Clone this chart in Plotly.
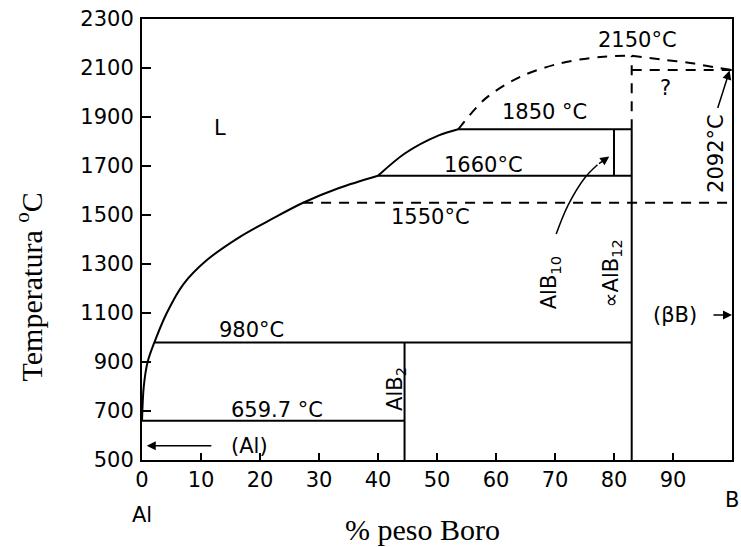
import plotly.graph_objects as go

# ---- data (wt% B, temperature in C) ----
liq_low_x = [0, 0.3, 0.95, 2.1, 4.2, 7.0, 10.9, 16.6, 22.2, 27.3, 33.4, 40]
liq_low_T = [659.7, 800, 900, 980, 1100, 1217, 1314, 1411, 1486, 1550, 1610, 1660]
liq_mid_x = [40, 44.6, 50.3, 53.6]
liq_mid_T = [1660, 1752, 1825, 1850]
liq_dash_left_x = [53.6, 58.2, 64.2, 71, 77.7, 83]
liq_dash_left_T = [1850, 1975, 2065, 2120, 2145, 2150]
liq_dash_right_x = [83, 88, 93.6, 97, 100]
liq_dash_right_T = [2150, 2135, 2118, 2103, 2092]

# invariant (horizontal) lines: (T, x_start, x_end)
solid_h_T = [659.7, 980, 1660, 1850]
solid_h_x0 = [0, 2.1, 40, 53.6]
solid_h_x1 = [44.5, 83, 83, 83]
dash_h_T = [1550, 2092]
dash_h_x0 = [27.3, 83]
dash_h_x1 = [100, 100]

# compound (vertical) lines: (x, T_start, T_end)
solid_v_x = [44.5, 83, 80]
solid_v_T0 = [500, 500, 1660]
solid_v_T1 = [980, 1850, 1850]
dash_v_x = [83]
dash_v_T0 = [1850]
dash_v_T1 = [2150]

# curved leader of AlB10 label
leader_x = [70.2, 72.2, 75.0, 77.2]
leader_T = [1422, 1539, 1650, 1705]

x_ticks = list(range(0, 101, 10))
y_ticks = list(range(500, 2301, 200))

LW = 2
BLK = "black"
DASH = "10px,8px"

fig = go.Figure()

def add_line(x, y, dash="solid", shape="linear"):
    fig.add_trace(go.Scatter(x=x, y=y, mode="lines",
                             line=dict(color=BLK, width=LW, dash=dash, shape=shape,
                                       smoothing=0.9 if shape == "spline" else None),
                             hoverinfo="skip", showlegend=False))

add_line(liq_low_x, liq_low_T, shape="spline")
add_line(liq_mid_x, liq_mid_T, shape="spline")
add_line(liq_dash_left_x, liq_dash_left_T, dash=DASH, shape="spline")
add_line(liq_dash_right_x, liq_dash_right_T, dash=DASH, shape="spline")

for T, a, b in zip(solid_h_T, solid_h_x0, solid_h_x1):
    add_line([a, b], [T, T])
for T, a, b in zip(dash_h_T, dash_h_x0, dash_h_x1):
    add_line([a, b], [T, T], dash=DASH)
for x, a, b in zip(solid_v_x, solid_v_T0, solid_v_T1):
    add_line([x, x], [a, b])
for x, a, b in zip(dash_v_x, dash_v_T0, dash_v_T1):
    add_line([x, x], [a, b], dash=DASH)

fig.add_trace(go.Scatter(x=leader_x, y=leader_T, mode="lines",
                         line=dict(color=BLK, width=1.5, shape="spline"),
                         hoverinfo="skip", showlegend=False))

TF = dict(family="DejaVu Sans", size=21, color=BLK)
SERIF = dict(family="Liberation Serif", size=30, color=BLK)

labels = [
    ("L", 13.2, 1856, 0),
    ("2150°C", 84, 2214, 0),
    ("?", 88.7, 2018, 0),
    ("1850 °C", 68.2, 1920, 0),
    ("1660°C", 57.9, 1704, 0),
    ("1550°C", 48.9, 1492, 0),
    ("980°C", 18.5, 1029, 0),
    ("659.7 °C", 22.8, 705, 0),
    ("(Al)", 18.2, 558, 0),
    ("(βB)", 90.4, 1092, 0),
    ("AlB<sub>2</sub>", 43.0, 789, -90),
    ("AlB<sub>10</sub>", 69.3, 1225, -90),
    ("∝AlB<sub>12</sub>", 79.6, 1260, -90),
    ("2092°C", 97.4, 1752, -90),
]
for txt, x, y, ang in labels:
    fig.add_annotation(x=x, y=y, xref="x", yref="y", text=txt, showarrow=False,
                       textangle=ang, font=TF, xanchor="center", yanchor="middle")

# arrows: (tip_x, tip_T, tail_x, tail_T)
arrows = [
    (0.8, 558, 12, 558),
    (100, 1092, 96.6, 1092),
    (99.6, 2090, 97.5, 1931),
    (79.2, 1739, 77.2, 1705),
]
for tx, ty, sx, sy in arrows:
    fig.add_annotation(x=tx, y=ty, ax=sx, ay=sy, xref="x", yref="y",
                       axref="x", ayref="y", text="", showarrow=True,
                       arrowhead=2, arrowsize=1.2, arrowwidth=1.5, arrowcolor=BLK)

# axis end labels and titles
fig.add_annotation(x=0, y=-0.124, xref="paper", yref="paper", text="Al",
                   showarrow=False, font=TF, xanchor="center", yanchor="middle")
fig.add_annotation(x=1, y=-0.09, xref="paper", yref="paper", text="B",
                   showarrow=False, font=TF, xanchor="center", yanchor="middle")
fig.add_annotation(x=0.4747, y=-0.158, xref="paper", yref="paper", text="% peso Boro",
                   showarrow=False, font=SERIF, xanchor="center", yanchor="middle")
fig.add_annotation(x=-0.191, y=0.392, xref="paper", yref="paper",
                   text="Temperatura <sup>o</sup>C", textangle=-90,
                   showarrow=False, font=SERIF, xanchor="center", yanchor="middle")

fig.update_layout(
    width=741, height=547,
    margin=dict(l=142, r=7, t=16, b=87),
    paper_bgcolor="white", plot_bgcolor="white",
    showlegend=False,
)
fig.update_xaxes(range=[0, 100], tickvals=x_ticks, ticktext=[str(v) for v in x_ticks],
                 showgrid=False, zeroline=False, showline=True, linecolor=BLK,
                 linewidth=LW, mirror=True, ticks="inside", ticklen=7, tickwidth=2,
                 tickcolor=BLK, tickfont=TF, ticklabelstandoff=0)
fig.update_yaxes(range=[500, 2300], tickvals=y_ticks, ticktext=[str(v) for v in y_ticks],
                 showgrid=False, zeroline=False, showline=True, linecolor=BLK,
                 linewidth=LW, mirror=True, ticks="inside", ticklen=9, tickwidth=2,
                 tickcolor=BLK, tickfont=TF, ticklabelstandoff=2)

fig.write_html("out.html")
